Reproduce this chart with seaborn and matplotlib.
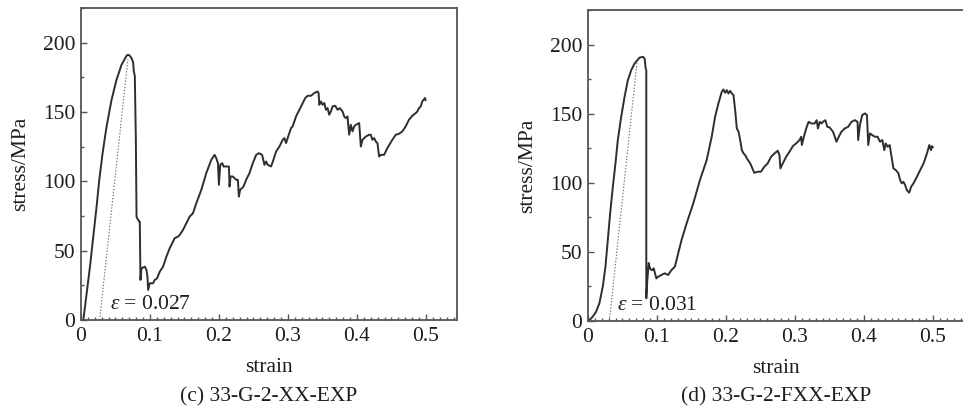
import numpy as np
import pandas as pd
import matplotlib
matplotlib.use("Agg")
import matplotlib.pyplot as plt
from matplotlib.ticker import MultipleLocator
import seaborn as sns

# ---- (c) 33-G-2-XX-EXP : stress-strain record ----
strain_c = [0.0034, 0.0082, 0.0130, 0.0178, 0.0226, 0.0265, 0.0313, 0.0371, 0.0443, 0.0515,
            0.0588, 0.0660, 0.0684, 0.0698, 0.0732, 0.0755, 0.0766, 0.0780, 0.0795, 0.0805,
            0.0814, 0.0843, 0.0852, 0.0862, 0.0877, 0.0925, 0.0949, 0.0963, 0.0973, 0.0997,
            0.1045, 0.1069, 0.1103, 0.1142, 0.1190, 0.1238, 0.1286, 0.1358, 0.1407, 0.1431,
            0.1479, 0.1527, 0.1575, 0.1623, 0.1672, 0.1744, 0.1816, 0.1888, 0.1936, 0.1961,
            0.1985, 0.1999, 0.2018, 0.2047, 0.2066, 0.2105, 0.2144, 0.2153, 0.2168, 0.2201,
            0.2250, 0.2274, 0.2288, 0.2307, 0.2355, 0.2394, 0.2442, 0.2490, 0.2539, 0.2577,
            0.2625, 0.2659, 0.2683, 0.2707, 0.2755, 0.2789, 0.2828, 0.2876, 0.2924, 0.2948,
            0.2972, 0.2996, 0.3044, 0.3068, 0.3117, 0.3165, 0.3213, 0.3251, 0.3285, 0.3333,
            0.3382, 0.3430, 0.3444, 0.3454, 0.3478, 0.3502, 0.3526, 0.3550, 0.3574, 0.3598,
            0.3622, 0.3646, 0.3685, 0.3719, 0.3752, 0.3791, 0.3815, 0.3839, 0.3863, 0.3887,
            0.3911, 0.3935, 0.3960, 0.3984, 0.4032, 0.4056, 0.4080, 0.4128, 0.4176, 0.4200,
            0.4224, 0.4249, 0.4273, 0.4297, 0.4321, 0.4345, 0.4393, 0.4441, 0.4513, 0.4562,
            0.4610, 0.4658, 0.4706, 0.4754, 0.4803, 0.4851, 0.4875, 0.4899, 0.4923, 0.4947,
            0.4986, 0.4995]
stress_c = [0.0, 19.3, 38.5, 60.2, 81.8, 101.1, 120.3, 139.6, 158.8, 173.3,
            184.1, 190.6, 191.3, 191.0, 188.9, 186.0, 179.3, 176.0, 130.0, 74.6,
            73.4, 71.0, 71.0, 28.9, 37.3, 38.5, 36.1, 31.3, 21.7, 26.5,
            26.5, 28.9, 30.1, 34.9, 38.5, 45.7, 51.8, 59.0, 60.2, 61.4,
            65.0, 69.8, 74.6, 77.0, 84.3, 93.9, 105.9, 115.5, 119.1, 116.7,
            113.1, 97.5, 111.9, 113.1, 110.7, 110.7, 110.7, 96.2, 103.5, 103.5,
            101.1, 101.1, 89.0, 93.9, 96.2, 101.1, 105.9, 113.1, 119.1, 120.3,
            119.1, 111.9, 114.3, 111.9, 110.7, 115.5, 121.5, 125.1, 130.0, 131.2,
            127.6, 131.2, 138.4, 139.6, 146.8, 151.6, 156.5, 160.1, 161.7, 161.7,
            163.7, 164.8, 163.7, 155.2, 157.6, 155.2, 156.5, 151.6, 152.8, 148.0,
            150.4, 154.0, 154.5, 151.6, 152.8, 150.4, 146.8, 145.6, 146.8, 133.6,
            140.8, 136.0, 139.6, 140.8, 142.0, 125.1, 130.0, 132.3, 133.6, 133.6,
            130.0, 131.2, 128.7, 127.6, 117.9, 119.1, 119.1, 124.0, 130.0, 133.6,
            134.3, 136.0, 139.6, 144.4, 147.3, 149.2, 150.4, 152.8, 154.0, 157.6,
            160.1, 158.4]

# ---- (d) 33-G-2-FXX-EXP : stress-strain record ----
strain_d = [0.0010, 0.0068, 0.0117, 0.0165, 0.0214, 0.0253, 0.0287, 0.0321, 0.0360, 0.0398,
            0.0432, 0.0481, 0.0530, 0.0578, 0.0627, 0.0675, 0.0724, 0.0748, 0.0797, 0.0821,
            0.0836, 0.0845, 0.0845, 0.0860, 0.0880, 0.0898, 0.0918, 0.0933, 0.0952, 0.0972,
            0.0991, 0.1016, 0.1064, 0.1113, 0.1161, 0.1210, 0.1259, 0.1307, 0.1356, 0.1429,
            0.1526, 0.1623, 0.1720, 0.1793, 0.1842, 0.1890, 0.1939, 0.1963, 0.1987, 0.2012,
            0.2036, 0.2060, 0.2085, 0.2109, 0.2133, 0.2157, 0.2182, 0.2206, 0.2230, 0.2255,
            0.2279, 0.2303, 0.2352, 0.2410, 0.2459, 0.2507, 0.2556, 0.2604, 0.2653, 0.2702,
            0.2750, 0.2775, 0.2789, 0.2823, 0.2872, 0.2920, 0.2969, 0.3017, 0.3066, 0.3090,
            0.3100, 0.3129, 0.3163, 0.3197, 0.3236, 0.3285, 0.3314, 0.3333, 0.3358, 0.3382,
            0.3406, 0.3440, 0.3469, 0.3503, 0.3552, 0.3576, 0.3601, 0.3635, 0.3673, 0.3722,
            0.3771, 0.3819, 0.3868, 0.3907, 0.3916, 0.3941, 0.3975, 0.4014, 0.4043, 0.4062,
            0.4086, 0.4120, 0.4159, 0.4198, 0.4232, 0.4266, 0.4295, 0.4315, 0.4344, 0.4373,
            0.4393, 0.4427, 0.4461, 0.4500, 0.4524, 0.4548, 0.4572, 0.4597, 0.4621, 0.4655,
            0.4684, 0.4718, 0.4767, 0.4815, 0.4864, 0.4913, 0.4947, 0.4971, 0.4985, 0.5000]
stress_d = [0.0, 3.1, 6.7, 12.8, 24.8, 39.3, 58.6, 77.9, 97.1, 114.0,
            130.9, 147.7, 162.2, 174.3, 181.5, 186.3, 189.2, 190.6, 191.1, 189.9,
            182.7, 181.5, 16.5, 29.6, 42.0, 38.0, 36.9, 36.9, 38.1, 34.5,
            30.8, 32.0, 33.3, 34.5, 33.3, 36.9, 39.3, 48.9, 58.6, 70.6,
            85.1, 102.0, 116.4, 133.3, 147.7, 157.4, 165.8, 167.5, 165.1, 167.0,
            164.6, 166.5, 164.6, 163.4, 152.6, 139.3, 136.9, 130.9, 123.6, 121.2,
            120.0, 117.6, 114.0, 107.2, 108.0, 108.0, 111.6, 114.0, 118.8, 121.2,
            123.2, 120.0, 110.4, 114.0, 118.8, 122.4, 126.5, 128.5, 130.9, 133.3,
            127.3, 133.3, 139.3, 144.1, 142.9, 142.9, 145.3, 139.3, 144.1, 142.9,
            144.1, 145.3, 140.5, 140.0, 136.9, 133.3, 129.7, 133.3, 136.9, 139.3,
            140.5, 144.1, 145.3, 144.1, 130.9, 141.7, 149.0, 150.2, 149.0, 127.3,
            135.7, 134.5, 133.3, 133.3, 129.7, 130.9, 123.6, 128.5, 126.0, 127.3,
            121.2, 110.4, 109.2, 106.8, 102.0, 99.6, 100.7, 98.3, 94.7, 92.8,
            97.1, 99.6, 104.3, 109.2, 114.0, 121.2, 127.3, 123.6, 126.5, 125.6]

# Unloading-slope construction lines: (offset strain, 0) -> point near the peak
offset_c = [0.027, 0.068]
offset_c_stress = [0.0, 188.0]
offset_d = [0.031, 0.071]
offset_d_stress = [0.0, 187.0]

eps_labels = ["0.027", "0.031"]
captions = ["(c) 33-G-2-XX-EXP", "(d) 33-G-2-FXX-EXP"]
x_ticks = [0, 0.1, 0.2, 0.3, 0.4, 0.5]
x_tick_labels = ["0", "0.1", "0.2", "0.3", "0.4", "0.5"]
y_ticks = [0, 50, 100, 150, 200]

sns.set_style("ticks")
plt.rcParams["font.family"] = ["Liberation Serif", "DejaVu Serif"]
plt.rcParams["mathtext.fontset"] = "custom"
plt.rcParams["mathtext.it"] = "Liberation Serif:italic"
plt.rcParams["mathtext.rm"] = "Liberation Serif"

W, H = 963, 419
fig = plt.figure(figsize=(W / 100, H / 100), dpi=100)
fig.patch.set_facecolor("white")

ax_c = fig.add_axes([81 / W, (H - 320) / H, 376 / W, 312 / H])
ax_d = fig.add_axes([588 / W, (H - 321) / H, 376 / W, 311 / H])

line_col = "#2e2e2e"
spine_col = "#555555"
text_col = "#1e1e1e"
fs = 15.5

panels = [
    (ax_c, strain_c, stress_c, offset_c, offset_c_stress, eps_labels[0], captions[0]),
    (ax_d, strain_d, stress_d, offset_d, offset_d_stress, eps_labels[1], captions[1]),
]

for ax, sx, sy, ox, oy, eps, cap in panels:
    df = pd.DataFrame({"strain": sx, "stress": sy})
    sns.lineplot(data=df, x="strain", y="stress", ax=ax, sort=False, estimator=None,
                 color=line_col, lw=1.4)
    odf = pd.DataFrame({"strain": ox, "stress": oy})
    sns.lineplot(data=odf, x="strain", y="stress", ax=ax, sort=False, estimator=None,
                 color="#6a6a6a", lw=0.8, linestyle=(0, (1.2, 1.6)))

    ax.set_xlim(0, 0.545)
    ax.set_ylim(0, 225)
    ax.set_xticks(x_ticks)
    ax.set_xticklabels(x_tick_labels)
    ax.set_yticks(y_ticks)
    ax.xaxis.set_minor_locator(MultipleLocator(0.01))
    ax.yaxis.set_minor_locator(MultipleLocator(25))
    ax.tick_params(which="both", direction="in", colors=spine_col, labelcolor=text_col,
                   labelsize=fs, width=1.0)
    ax.tick_params(which="major", length=4.5)
    ax.tick_params(which="minor", length=2.5)
    ax.tick_params(axis="x", which="both", pad=5)
    ax.tick_params(axis="y", which="both", pad=4)
    for s in ax.spines.values():
        s.set_color(spine_col)
        s.set_linewidth(1.3)
    ax.set_xlabel("strain", fontsize=fs, color=text_col, labelpad=9)
    ax.set_ylabel("stress/MPa", fontsize=fs, color=text_col, labelpad=9)

    ax.text(0.042, 4, r"$\varepsilon$ = " + eps, fontsize=fs, color=text_col,
            ha="left", va="bottom")

    bb = ax.get_position()
    fig.text(bb.x0 + 188 / W, 1 - 397 / H, cap, fontsize=fs, color=text_col,
             ha="center", va="center")

fig.savefig("out.png", dpi=100, facecolor="white")
